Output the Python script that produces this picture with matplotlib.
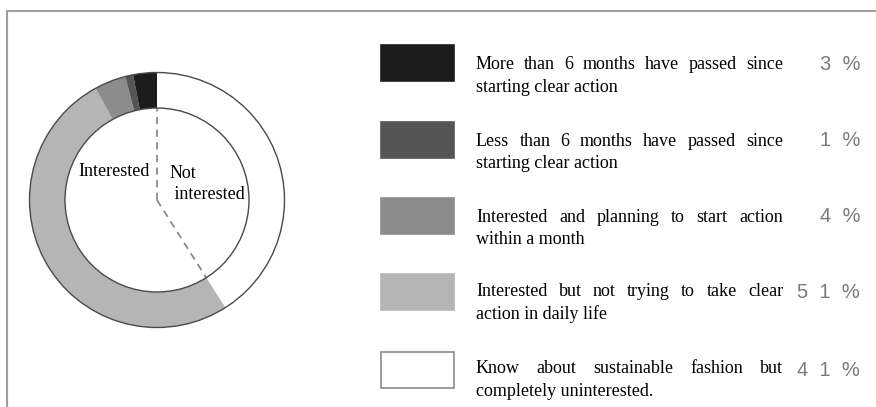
import matplotlib
matplotlib.use("Agg")
import matplotlib.pyplot as plt
from matplotlib.patches import Rectangle, Circle
import numpy as np

# ---- data ----
categories = [
    ("More than 6 months have passed since", "starting clear action"),
    ("Less than 6 months have passed since", "starting clear action"),
    ("Interested and planning to start action", "within a month"),
    ("Interested but not trying to take clear", "action in daily life"),
    ("Know about sustainable fashion but", "completely uninterested."),
]
percents = [3, 1, 4, 51, 41]
pct_labels = ["3  %", "1  %", "4  %", "5  1  %", "4  1  %"]
colors = ["#1c1c1c", "#555555", "#8c8c8c", "#b5b5b5", "#ffffff"]
group_labels = ["Interested", "Not\n interested"]

W, H = 876, 407
fig = plt.figure(figsize=(W / 100, H / 100), dpi=100)
ax = fig.add_axes([0, 0, 1, 1])

def Y(y):  # image y -> data y
    return H - y

# donut
cx, cy = 157, Y(200)
r_out, r_in = 127.5, 92
vals = percents[::-1]
cols = colors[::-1]
ax.pie(vals, colors=cols, startangle=90, counterclock=False,
       center=(cx, cy), radius=r_out,
       wedgeprops=dict(width=r_out - r_in, edgecolor="none", linewidth=0))
ax.add_patch(Circle((cx, cy), r_out, fill=False, edgecolor="#4a4a4a", lw=1.0, zorder=5))
ax.add_patch(Circle((cx, cy), r_in, fill=False, edgecolor="#4a4a4a", lw=1.0, zorder=5))

# dashed dividers: top and boundary between "not interested" and "interested"
ang_split = np.deg2rad(90 - 360 * vals[0] / sum(vals))
ax.plot([cx, cx], [cy, cy + r_in], ls=(0, (4, 3)), color="#8a8a8a", lw=1.3, zorder=4)
ax.plot([cx, cx + r_in * np.cos(ang_split)], [cy, cy + r_in * np.sin(ang_split)],
        ls=(0, (4, 3)), color="#8a8a8a", lw=1.3, zorder=4)

serif = "Liberation Serif"
ax.text(114, Y(172), group_labels[0], ha="center", va="center", fontsize=13, family=serif)
ax.text(170, Y(184), group_labels[1], ha="left", va="center", fontsize=13, family=serif,
        linespacing=1.25)

# frame lines
ax.plot([7, W], [Y(11), Y(11)], color="#a0a0a0", lw=1.5)
ax.plot([7, 7], [Y(11), 0], color="#a0a0a0", lw=1.5)

ax.set_xlim(0, W)
ax.set_ylim(0, H)
ax.set_aspect("auto")
ax.axis("off")

fig.canvas.draw()
renderer = fig.canvas.get_renderer()

def justify(words_line, x0, x1, y, fs):
    words = words_line.split()
    ts = [ax.text(0, y, w, ha="left", va="baseline", fontsize=fs, family=serif) for w in words]
    widths = [t.get_window_extent(renderer).width for t in ts]
    gap = (x1 - x0 - sum(widths)) / max(len(words) - 1, 1)
    x = x0
    for t, w in zip(ts, widths):
        t.set_x(x)
        x += w + gap

box_centers = [63, 139.5, 215.5, 292, 369.5]
line1_base = [69, 145.5, 221.5, 296, 373]
for (l1, l2), pl, col, bc, b1 in zip(categories, pct_labels, colors, box_centers, line1_base):
    ax.add_patch(Rectangle((381, Y(bc + 18)), 73, 36, facecolor=col,
                           edgecolor="#8a8a8a" if col == "#ffffff" else col, lw=1.2))
    justify(l1, 476, 783, Y(b1), 13)
    ax.text(476, Y(b1 + 23), l2, ha="left", va="baseline", fontsize=13, family=serif)
    ax.text(860, Y(bc + 1), pl, ha="right", va="center", fontsize=14.5,
            family="Liberation Sans", color="#7a7a7a")

fig.savefig("out.png", dpi=100)
